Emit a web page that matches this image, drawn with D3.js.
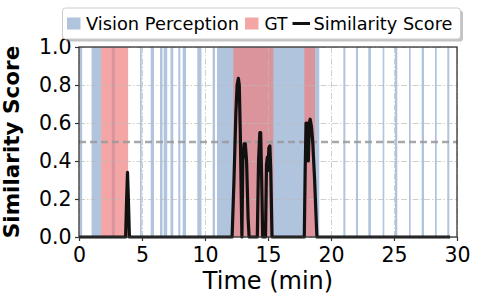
<!DOCTYPE html>
<html>
<head>
<meta charset="utf-8">
<script src="https://cdn.jsdelivr.net/npm/d3@7"></script>
<style>
  body { margin: 0; background: #fff; }
  svg { display: block; font-family: "DejaVu Sans", sans-serif; }
</style>
</head>
<body>
<svg id="chart" width="479" height="303"></svg>
<script>
// vision perception intervals (min)
const visionBands = [
    [0.05, 0.25], [1.0, 1.75], [2.6, 2.85], [4.84, 4.98], [5.69, 5.95],
    [6.43, 6.63], [6.72, 7.0], [7.26, 7.48], [7.88, 8.04], [8.23, 8.49],
    [9.39, 9.72], [10.6, 10.8], [10.95, 19.07], [20.98, 21.14], [21.98, 22.14],
    [22.96, 23.17], [24.1, 24.23], [25.08, 25.26], [26.19, 26.32], [27.2, 27.38],
    [28.25, 28.39], [29.23, 29.39]
];
// ground truth intervals (min)
const gtBands = [[1.75, 3.9], [12.25, 15.42], [17.88, 18.73]];

// similarity score series
const scoreTime = [0, 3.7, 3.78, 3.85, 3.92, 4.0,
    12.15, 12.3, 12.45, 12.55, 12.65, 12.72, 12.8, 12.88, 12.93,
    13.0, 13.1, 13.2, 13.3, 13.42, 13.5,
    14.15, 14.25, 14.35, 14.42, 14.5, 14.58,
    14.8, 14.88, 14.95, 15.0, 15.07, 15.15, 15.22, 15.32,
    17.88, 17.95, 18.02, 18.1, 18.2, 18.28, 18.35, 18.45, 18.55, 18.7, 18.88,
    29.45];
const scoreValue = [0, 0, 0.2, 0.34, 0.2, 0,
    0, 0.3, 0.65, 0.8, 0.835, 0.8, 0.55, 0.2, 0,
    0.4, 0.49, 0.49, 0.4, 0.1, 0,
    0, 0.4, 0.55, 0.55, 0.3, 0,
    0, 0.38, 0.42, 0.35, 0.47, 0.48, 0.35, 0,
    0, 0.35, 0.6, 0.6, 0.4, 0.6, 0.62, 0.58, 0.5, 0.3, 0,
    0];

const xTicks = [0, 5, 10, 15, 20, 25, 30];
const yTicks = [0, 0.2, 0.4, 0.6, 0.8, 1.0];
const threshold = 0.5;
const legendItems = ["Vision Perception", "GT", "Similarity Score"];

const svg = d3.select("#chart");
const margin = {top: 47, right: 22, bottom: 66, left: 79};
const width = +svg.attr("width") - margin.left - margin.right;
const height = +svg.attr("height") - margin.top - margin.bottom;

const x = d3.scaleLinear().domain([0, 30]).range([0, width]);
const y = d3.scaleLinear().domain([0, 1]).range([height, 0]);

const blue = "#b0c4de";
const red = "#f08080";

const g = svg.append("g")
    .attr("transform", `translate(${margin.left},${margin.top})`);

g.append("g").selectAll("rect")
    .data(visionBands)
    .join("rect")
    .attr("x", d => x(d[0]))
    .attr("width", d => x(d[1]) - x(d[0]))
    .attr("y", 0)
    .attr("height", height)
    .attr("fill", blue);

g.append("g").selectAll("rect")
    .data(gtBands)
    .join("rect")
    .attr("x", d => x(d[0]))
    .attr("width", d => x(d[1]) - x(d[0]))
    .attr("y", 0)
    .attr("height", height)
    .attr("fill", red)
    .attr("fill-opacity", 0.7);

// grid
g.append("g")
    .attr("class", "grid")
    .call(d3.axisLeft(y).tickValues(yTicks).tickSize(-width).tickFormat(""));
g.append("g")
    .attr("class", "grid")
    .attr("transform", `translate(0,${height})`)
    .call(d3.axisBottom(x).tickValues(xTicks).tickSize(-height).tickFormat(""));
g.selectAll(".grid .domain").remove();
g.selectAll(".grid line")
    .attr("stroke", "#bbb")
    .attr("stroke-opacity", 0.7)
    .attr("stroke-dasharray", "6,2,1.5,2");

g.append("line")
    .attr("x1", 0).attr("x2", width)
    .attr("y1", y(threshold)).attr("y2", y(threshold))
    .attr("stroke", "#999")
    .attr("stroke-opacity", 0.85)
    .attr("stroke-width", 2.5)
    .attr("stroke-dasharray", "7,4");

const line = d3.line()
    .x((d, i) => x(scoreTime[i]))
    .y(d => y(d));

g.append("path")
    .datum(scoreValue)
    .attr("fill", "none")
    .attr("stroke", "#111")
    .attr("stroke-width", 3.2)
    .attr("stroke-linejoin", "round")
    .attr("d", line);

// frame
g.append("rect")
    .attr("width", width)
    .attr("height", height)
    .attr("fill", "none")
    .attr("stroke", "#333")
    .attr("stroke-width", 1.3);

const xAxis = g.append("g")
    .attr("transform", `translate(0,${height})`)
    .call(d3.axisBottom(x).tickValues(xTicks).tickSize(4).tickPadding(6).tickFormat(d3.format("d")));
const yAxis = g.append("g")
    .call(d3.axisLeft(y).tickValues(yTicks).tickSize(4).tickPadding(3.5).tickFormat(d3.format(".1f")));
[xAxis, yAxis].forEach(a => {
    a.select(".domain").remove();
    a.selectAll("line").attr("stroke", "#333").attr("stroke-width", 1.2);
    a.selectAll("text").attr("font-family", "DejaVu Sans").attr("font-size", 20.5).attr("fill", "#000");
});

svg.append("text")
    .attr("x", margin.left + width / 2)
    .attr("y", 289)
    .attr("text-anchor", "middle")
    .attr("font-size", 24)
    .text("Time (min)");

svg.append("text")
    .attr("transform", `translate(19,${margin.top + height / 2}) rotate(-90)`)
    .attr("text-anchor", "middle")
    .attr("font-size", 21.5)
    .attr("font-weight", "bold")
    .text("Similarity Score");

// legend
const legend = svg.append("g");
legend.append("rect")
    .attr("x", 65).attr("y", 10.5).attr("width", 398).attr("height", 31)
    .attr("rx", 3).attr("fill", "#888").attr("fill-opacity", 0.5);
legend.append("rect")
    .attr("x", 62.5).attr("y", 8).attr("width", 398).attr("height", 31)
    .attr("rx", 3).attr("fill", "#fff").attr("stroke", "#ccc");

legend.append("rect").attr("x", 67).attr("y", 17.5).attr("width", 13.5).attr("height", 12).attr("fill", blue);
legend.append("rect").attr("x", 245).attr("y", 17.5).attr("width", 13.5).attr("height", 12)
    .attr("fill", red).attr("fill-opacity", 0.7);
legend.append("line").attr("x1", 292.5).attr("x2", 310).attr("y1", 23.5).attr("y2", 23.5)
    .attr("stroke", "#111").attr("stroke-width", 3);

const legendX = [86, 264.5, 313.5];
const legendLen = [153, 23, 139];
legendItems.forEach((name, i) => {
    legend.append("text")
        .attr("x", legendX[i]).attr("y", 29.5)
        .attr("font-size", 17.5)
        .attr("textLength", legendLen[i])
        .attr("lengthAdjust", "spacingAndGlyphs")
        .text(name);
});
</script>
</body>
</html>
